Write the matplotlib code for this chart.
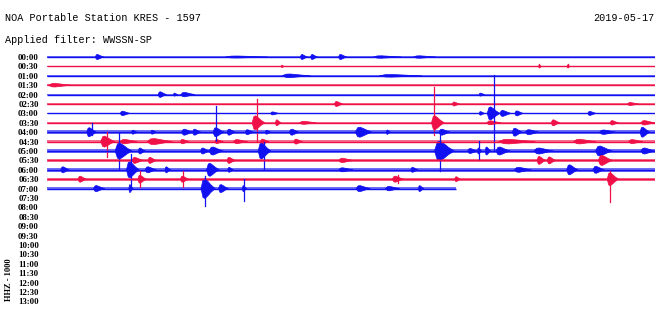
import matplotlib
matplotlib.use("Agg")
import matplotlib.pyplot as plt

# helicorder rows, 30 minutes per line
row_labels = ["00:00", "00:30", "01:00", "01:30", "02:00", "02:30", "03:00",
              "03:30", "04:00", "04:30", "05:00", "05:30", "06:00", "06:30",
              "07:00", "07:30", "08:00", "08:30", "09:00", "09:30", "10:00",
              "10:30", "11:00", "11:30", "12:00", "12:30", "13:00"]
# end of recorded data in each filled row (minutes)
trace_end = [30, 30, 30, 30, 30, 30, 30, 30, 30, 30, 30, 30, 30, 30, 20.2]
# background noise half-amplitude per row
noise = [0.6, 0.5, 1.1, 1.1, 0.6, 1.1, 0.8, 1.2, 1.8, 1.7, 1.8, 1.9, 1.8, 1.7, 1.8]

# bursts per row: (minute, duration, amplitude)
bursts = {
    0: [(2.5, 0.3, 2.5), (9.4, 1.5, 1.0), (12.6, 0.25, 2.5), (13.1, 0.25, 2.5),
        (14.5, 0.3, 2.5), (16.5, 1.0, 1.2), (18.4, 0.8, 1.2)],
    1: [(11.6, 0.1, 1.2), (24.3, 0.1, 1.5), (25.7, 0.1, 1.5)],
    2: [(12.0, 1.0, 1.8), (17.0, 1.5, 1.3)],
    3: [(0.4, 0.8, 1.8)],
    4: [(5.6, 0.3, 2.8), (6.3, 0.15, 1.5), (6.8, 0.5, 2.2), (21.4, 0.2, 1.5)],
    5: [(14.3, 0.3, 2.5), (20.1, 0.25, 2.0), (28.8, 0.4, 1.5)],
    6: [(3.75, 0.35, 2.2), (11.15, 0.3, 1.5), (21.4, 0.2, 1.8), (21.9, 0.45, 6.5),
        (22.5, 0.4, 3.0), (23.2, 0.3, 2.5), (26.8, 0.3, 2.0)],
    7: [(10.3, 0.45, 7), (11.35, 0.2, 3), (12.7, 0.6, 1.5), (19.15, 0.45, 7),
        (21.9, 0.5, 2), (25.0, 0.3, 3), (27.9, 0.3, 2.2), (29.5, 0.5, 2.2)],
    8: [(2.1, 0.35, 4.5), (4.25, 0.2, 2), (5.2, 0.2, 2), (6.8, 0.4, 3),
        (7.3, 0.3, 3), (8.35, 0.4, 4.5), (9.0, 0.3, 3), (9.9, 0.3, 2.5),
        (10.85, 0.2, 2), (12.1, 0.35, 3), (15.45, 0.6, 5), (16.8, 0.15, 2.2),
        (19.5, 0.4, 3), (23.1, 0.35, 4), (23.8, 0.5, 2.5), (27.5, 0.6, 2.2),
        (29.4, 0.35, 5)],
    9: [(2.85, 0.5, 5.5), (3.85, 0.6, 2.2), (5.3, 0.9, 3), (6.7, 0.3, 2.2),
        (8.4, 0.3, 2), (9.4, 0.5, 2), (10.65, 0.3, 2.5), (12.3, 0.3, 2.5),
        (22.8, 1.3, 2.3), (26.3, 0.8, 2.3), (28.9, 0.5, 2)],
    10: [(3.6, 0.6, 8), (4.6, 0.25, 3), (7.7, 0.3, 3), (8.2, 0.5, 4),
         (10.6, 0.45, 8), (19.4, 0.7, 10), (20.9, 0.35, 2.5), (21.3, 0.15, 3),
         (21.7, 0.2, 4), (22.35, 0.5, 4), (24.3, 0.7, 3), (27.3, 0.6, 5),
         (29.5, 0.5, 3)],
    11: [(4.35, 0.4, 3), (5.1, 0.3, 3), (9.0, 0.3, 3), (14.6, 0.5, 2.2),
         (24.3, 0.3, 4), (24.8, 0.3, 3.5), (27.4, 0.5, 5)],
    12: [(0.8, 0.3, 3), (4.1, 0.45, 8), (5.0, 0.4, 3), (5.9, 0.2, 3),
         (8.05, 0.45, 6.5), (9.0, 0.2, 2.5), (14.6, 0.5, 2), (18.05, 0.25, 2.5),
         (23.3, 0.6, 2.5), (25.8, 0.4, 5), (27.1, 0.4, 3.5)],
    13: [(1.65, 0.3, 3), (4.6, 0.3, 4), (6.7, 0.3, 3), (17.2, 0.4, 3),
         (20.2, 0.2, 2.5), (27.8, 0.4, 6.5)],
    14: [(2.45, 0.4, 3), (4.1, 0.15, 4), (7.8, 0.5, 10), (8.6, 0.35, 4),
         (9.7, 0.15, 3), (15.45, 0.5, 3), (16.9, 0.5, 2.2), (18.4, 0.2, 3)],
}

# large single swings per row: (minute, up, down)
spikes = {
    1: [(24.3, 2, 1), (25.7, 2, 1)],
    6: [(22.05, 38, 38)],
    7: [(10.35, 24, 19), (19.1, 36, 12)],
    8: [(2.2, 9, 3), (8.35, 26, 9)],
    9: [(2.95, 10, 15)],
    10: [(3.55, 18, 18), (10.7, 9, 18), (19.4, 18, 20), (21.3, 10, 9)],
    12: [(4.15, 16, 19)],
    13: [(4.6, 8, 8), (6.7, 8, 8), (17.3, 4, 4), (27.8, 8, 23)],
    14: [(7.8, 13, 17), (9.7, 10, 12)],
}

ROW_GAP = 9.4
blue = "#1010f0"
red = "#f01048"
shape_x = [-0.4, -0.2, 0.0, 0.3, 0.6, 1.0]
shape_y = [0.0, 0.9, 1.0, 0.7, 0.35, 0.0]

fig = plt.figure(figsize=(6.6, 3.1), dpi=100)
ax = fig.add_axes([47 / 660, 2 / 310, 608 / 660, 258 / 310])

for i in range(len(trace_end)):
    base = i * ROW_GAP
    c = blue if i % 2 == 0 else red
    end = trace_end[i]
    ax.fill_between([0, end], base - noise[i], base + noise[i], color=c,
                    alpha=0.6, lw=0)
    ax.plot([0, end], [base, base], color=c, lw=1.0, solid_capstyle="butt")
    for t, w, a in bursts.get(i, []):
        xs = [t + sx * w for sx in shape_x]
        up = [base - sy * a for sy in shape_y]
        dn = [base + sy * a for sy in shape_y]
        ax.fill(xs + xs[::-1], up + dn[::-1], color=c, lw=0.5, ec=c)
    for t, u, d in spikes.get(i, []):
        ax.plot([t, t], [base - u, base + d], color=c, lw=0.9)

ax.set_xlim(0, 30)
ax.set_ylim(251, -7)
ax.set_yticks([i * ROW_GAP for i in range(len(row_labels))])
ax.set_yticklabels(row_labels, family="Liberation Serif", fontsize=6.3,
                   fontweight="bold")
ax.tick_params(axis="y", length=0, pad=6)
ax.set_xticks([])
for s in ax.spines.values():
    s.set_visible(False)

fig.text(5 / 660, 1 - 18 / 310, "NOA Portable Station KRES - 1597",
         family="Liberation Mono", fontsize=7.3, va="center", ha="left")
fig.text(5 / 660, 1 - 40 / 310, "Applied filter: WWSSN-SP",
         family="Liberation Mono", fontsize=7.3, va="center", ha="left")
fig.text(655 / 660, 1 - 18 / 310, "2019-05-17",
         family="Liberation Mono", fontsize=7.3, va="center", ha="right")
fig.text(9 / 660, 1 - 280 / 310, "HHZ - 1000", family="Liberation Serif",
         fontsize=6, fontweight="bold", rotation=90, va="center", ha="center")

fig.savefig("out.png", dpi=100)
